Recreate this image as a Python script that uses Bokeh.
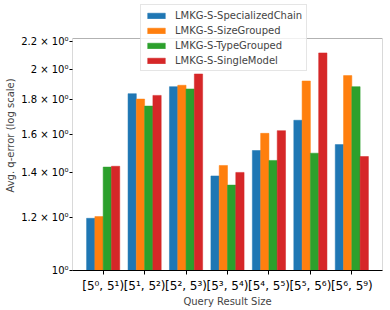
import math
from bokeh.plotting import figure
from bokeh.models import Range1d, FixedTicker, Legend, LegendItem, ColumnDataSource, BoxAnnotation
from bokeh.embed import file_html
from bokeh.resources import INLINE

categories = ["[5⁰, 5¹)", "[5¹, 5²)", "[5², 5³)", "[5³, 5⁴)", "[5⁴, 5⁵)", "[5⁵, 5⁶)", "[5⁶, 5⁹)"]
series_names = ["LMKG-S-SpecializedChain", "LMKG-S-SizeGrouped", "LMKG-S-TypeGrouped", "LMKG-S-SingleModel"]
specialized_chain = [1.197, 1.839, 1.884, 1.385, 1.512, 1.678, 1.543]
size_grouped = [1.204, 1.805, 1.893, 1.436, 1.604, 1.921, 1.957]
type_grouped = [1.428, 1.762, 1.869, 1.342, 1.461, 1.498, 1.884]
single_model = [1.432, 1.828, 1.968, 1.402, 1.619, 2.116, 1.481]
colors = ["#1f77b4", "#ff7f0e", "#2ca02c", "#d62728"]
y_ticks = [1.0, 1.2, 1.4, 1.6, 1.8, 2.0, 2.2]
y_tick_labels = ["10⁰", "1.2 × 10⁰", "1.4 × 10⁰", "1.6 × 10⁰", "1.8 × 10⁰", "2 × 10⁰", "2.2 × 10⁰"]

FONT = "DejaVu Sans"
n = len(categories)
bar_w = 0.2

# axes box (visible) geometry
Y_MIN, Y_MAX = 1.0, 2.224
X_MIN, X_MAX = -0.74, n - 1 + 0.74
BOX_H = 232          # visible axes height in px
TOP_PAD = 38         # extra drawing room above the axes box (for the legend)
px_per_decade = BOX_H / math.log10(Y_MAX / Y_MIN)
y_top_ext = Y_MAX * 10 ** (TOP_PAD / px_per_decade)

p = figure(frame_width=310, frame_height=BOX_H + TOP_PAD, output_backend="svg", toolbar_location=None,
           y_axis_type="log",
           x_range=Range1d(X_MIN, X_MAX), y_range=Range1d(Y_MIN, y_top_ext),
           min_border_left=72, min_border_top=0, min_border_bottom=0, min_border_right=1)

items = []
for j, (name, vals) in enumerate(zip(series_names, [specialized_chain, size_grouped, type_grouped, single_model])):
    xs = [i + (j - 1.5) * bar_w for i in range(n)]
    src = ColumnDataSource(dict(x=xs, top=vals))
    r = p.vbar(x="x", top="top", bottom=Y_MIN, width=bar_w, source=src,
               fill_color=colors[j], line_color=colors[j], line_alpha=0.5)
    items.append(LegendItem(label=name, renderers=[r]))

# visible axes box
p.add_layout(BoxAnnotation(left=X_MIN, right=X_MAX, bottom=Y_MIN, top=Y_MAX,
                           fill_alpha=0, line_color="black", line_width=1, level="underlay"))

p.xgrid.visible = False
p.ygrid.visible = False
p.outline_line_color = None
p.background_fill_color = "white"
p.border_fill_color = "white"

xa = p.xaxis[0]
xa.ticker = FixedTicker(ticks=list(range(n)))
xa.major_label_overrides = {i: c for i, c in enumerate(categories)}
xa.axis_label = "Query Result Size"
xa.axis_label_text_font = FONT
xa.axis_label_text_font_style = "normal"
xa.axis_label_text_font_size = "10px"
xa.axis_label_standoff = 0
xa.major_label_text_font = FONT
xa.major_label_text_font_size = "12px"
xa.major_label_text_color = "black"
xa.major_label_standoff = 4
xa.minor_tick_line_color = None
xa.major_tick_out = 4
xa.major_tick_in = 0
xa.axis_line_color = "black"

ya = p.yaxis[0]
ya.ticker = FixedTicker(ticks=y_ticks, minor_ticks=[])
ya.major_label_overrides = {t: l for t, l in zip(y_ticks, y_tick_labels)}
ya.axis_label = "Avg. q-error (log scale)"
ya.axis_label_text_font = FONT
ya.axis_label_text_font_style = "normal"
ya.axis_label_text_font_size = "10px"
ya.axis_label_standoff = 2
ya.major_label_text_font = FONT
ya.major_label_text_font_size = "10px"
ya.major_label_text_color = "black"
ya.major_label_standoff = 1
ya.minor_tick_line_color = None
ya.major_tick_out = 3
ya.major_tick_in = 0
ya.axis_line_color = None

legend = Legend(items=items, location=(68, BOX_H - 33), orientation="vertical",
                label_text_font=FONT, label_text_font_size="10px",
                glyph_width=22, glyph_height=7, label_height=12, spacing=3,
                label_standoff=8, padding=4, margin=0,
                border_line_color="#cccccc", border_line_width=1,
                background_fill_alpha=0.8)
p.add_layout(legend, "center")

open("out.html", "w").write(file_html(p, INLINE))
